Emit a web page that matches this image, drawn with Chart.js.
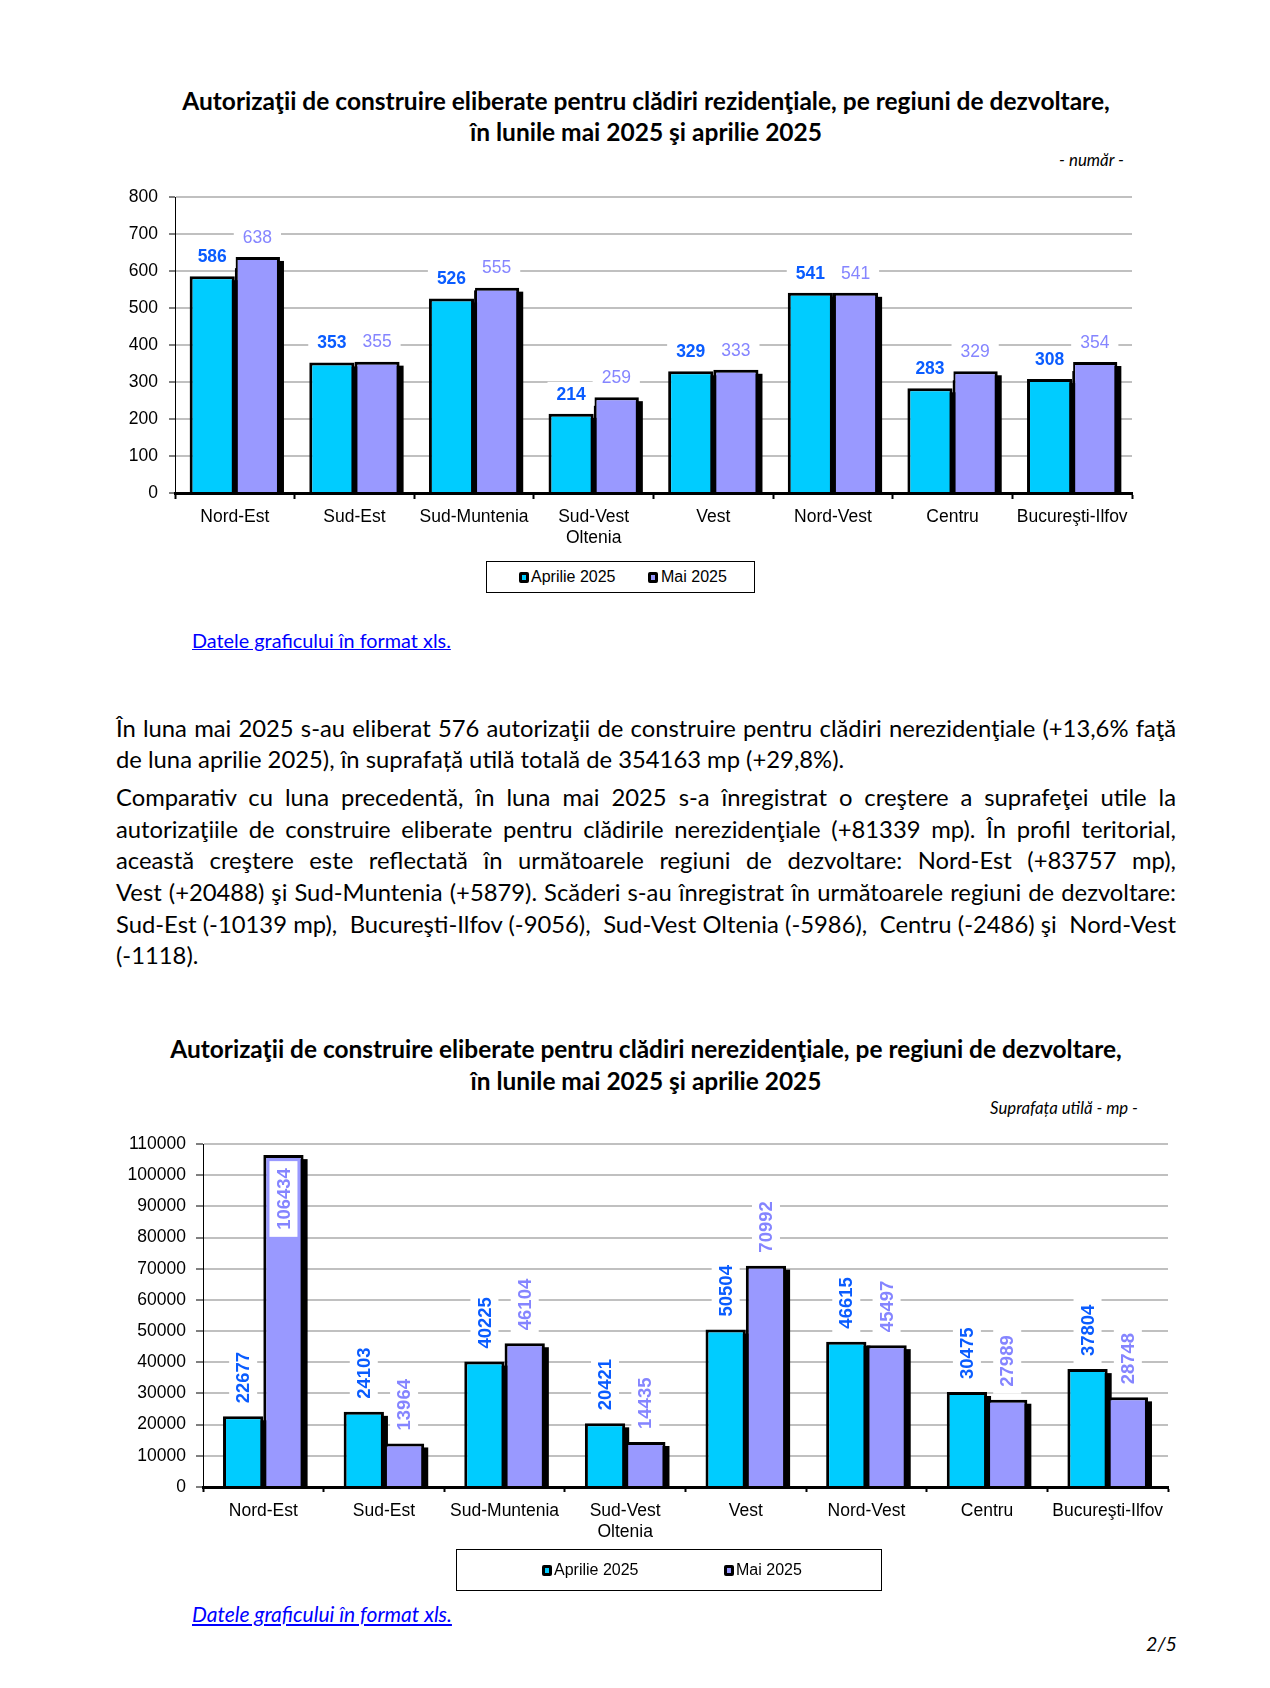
<!DOCTYPE html>
<html><head><meta charset="utf-8">
<script src="https://cdn.jsdelivr.net/npm/chart.js@4.4.1/dist/chart.umd.min.js"></script>
<style>
html,body{margin:0;padding:0;background:#fff;}
body{width:1270px;height:1688px;position:relative;overflow:hidden;font-family:Lato,'Open Sans',sans-serif;color:#000;}
.abs{position:absolute;white-space:nowrap;}
.ctitle{position:absolute;left:11px;width:1270px;text-align:center;font-weight:bold;line-height:30px;white-space:nowrap;}
.line{position:absolute;left:116px;width:1060px;line-height:30px;font-size:22px;}
.line.j{text-align:justify;text-align-last:justify;}
.line.l{text-align:left;}
.link{color:#0000ff;text-decoration:underline;line-height:30px;}
.unit{font-style:italic;line-height:20px;text-align:right;}
.legbox{position:absolute;border:1px solid #000;box-sizing:border-box;}
.sq{position:absolute;width:10px;height:11px;border:3px solid #000;border-radius:2px;box-sizing:border-box;}
.legtxt{position:absolute;font-family:'Liberation Sans',Arial,sans-serif;font-size:16px;line-height:20px;white-space:nowrap;}
canvas{position:absolute;}
</style>
</head>
<body>
<div class="ctitle" id="t1a" style="top:86px"><span>Autorizaţii de construire eliberate pentru clădiri rezidenţiale, pe regiuni de dezvoltare,</span></div>
<div class="ctitle" id="t1b" style="top:117px"><span>în lunile mai 2025 şi aprilie 2025</span></div>
<div class="abs unit" id="u1" style="top:150px;">- număr -</div>

<canvas id="c1" width="1060" height="380" style="left:100px;top:170px;width:1060px;height:380px"></canvas>
<div id="leg1"></div>

<div class="abs link" id="lk1" style="left:192px;top:625px;">Datele graficului în format xls.</div>

<div class="line j" style="top:713px">În luna mai 2025 s-au eliberat 576 autorizaţii de construire pentru clădiri nerezidenţiale (+13,6% faţă</div>
<div class="line l" style="top:744px">de luna aprilie 2025), în suprafață utilă totală de 354163 mp (+29,8%).</div>
<div class="line j" style="top:782px">Comparativ cu luna precedentă, în luna mai 2025 s-a înregistrat o creştere a suprafeţei utile la</div>
<div class="line j" style="top:814px">autorizaţiile de construire eliberate pentru clădirile nerezidenţiale (+81339 mp). În profil teritorial,</div>
<div class="line j" style="top:845px">această creştere este reflectată în următoarele regiuni de dezvoltare: Nord-Est (+83757 mp),</div>
<div class="line j" style="top:877px">Vest (+20488) şi Sud-Muntenia (+5879). Scăderi s-au înregistrat în următoarele regiuni de dezvoltare:</div>
<div class="line j" style="top:909px">Sud-Est (-10139 mp),&nbsp; Bucureşti-Ilfov (-9056),&nbsp; Sud-Vest Oltenia (-5986),&nbsp; Centru (-2486) şi&nbsp; Nord-Vest</div>
<div class="line l" style="top:940px">(-1118).</div>

<div class="ctitle" id="t2a" style="top:1034px"><span>Autorizaţii de construire eliberate pentru clădiri nerezidenţiale, pe regiuni de dezvoltare,</span></div>
<div class="ctitle" id="t2b" style="top:1066px"><span>în lunile mai 2025 şi aprilie 2025</span></div>
<div class="abs unit" id="u2" style="top:1098px;">Suprafața utilă - mp -</div>

<canvas id="c2" width="1090" height="440" style="left:100px;top:1120px;width:1090px;height:440px"></canvas>
<div id="leg2"></div>

<div class="abs link" id="lk2" style="left:192px;top:1599px;font-style:italic;">Datele graficului în format xls.</div>
<div class="abs unit" id="pg" style="top:1632px;line-height:24px;">2/5</div>

<script>
// ---------- DATA ----------
const categories = [['Nord-Est'], ['Sud-Est'], ['Sud-Muntenia'], ['Sud-Vest', 'Oltenia'], ['Vest'], ['Nord-Vest'], ['Centru'], ['Bucureşti-Ilfov']];
const seriesNames = ['Aprilie 2025', 'Mai 2025'];
const residApr = [586, 353, 526, 214, 329, 541, 283, 308];
const residMai = [638, 355, 555, 259, 333, 541, 329, 354];
const nonresApr = [22677, 24103, 40225, 20421, 50504, 46615, 30475, 37804];
const nonresMai = [106434, 13964, 46104, 14435, 70992, 45497, 27989, 28748];
const residTicks = [0, 100, 200, 300, 400, 500, 600, 700, 800];
const nonresTicks = [0, 10000, 20000, 30000, 40000, 50000, 60000, 70000, 80000, 90000, 100000, 110000];

// ---------- STYLE ----------
const COLORS = ['#00ccff', '#9999ff'];
const LABEL_COLORS = ['#0a5cff', '#8585ff'];
const AX = "'Liberation Sans', Arial, sans-serif";
Chart.defaults.font.family = AX;
Chart.defaults.color = '#000';

// ---------- text fitting ----------
function widthOf(el){ return el.getBoundingClientRect().width; }
function fitFont(el, target, base){ el.style.fontSize = base + 'px'; const w = widthOf(el); const fs = base * target / w; el.style.fontSize = fs + 'px'; return fs; }

const bodyLines = [...document.querySelectorAll('.line')];
bodyLines.forEach(l => {
  const h = l.innerHTML; l.innerHTML = '';
  const s = document.createElement('span'); s.innerHTML = h; l.appendChild(s);
});

function layoutText(){
  const a1 = document.querySelector('#t1a span'); a1.style.fontSize = '';
  document.querySelector('#t1a').style.fontSize = '23px';
  const fs1 = fitFont(a1, 928, 23);
  a1.style.fontSize = '';
  document.querySelector('#t1a').style.fontSize = fs1 + 'px';
  document.querySelector('#t1b').style.fontSize = fs1 + 'px';
  const a2 = document.querySelector('#t2a span'); a2.style.fontSize = '';
  document.querySelector('#t2a').style.fontSize = '23px';
  const fs2 = fitFont(a2, 952, 23);
  a2.style.fontSize = '';
  document.querySelector('#t2a').style.fontSize = fs2 + 'px';
  document.querySelector('#t2b').style.fontSize = fs2 + 'px';

  const u1 = document.getElementById('u1'); fitFont(u1, 65, 15); u1.style.left = (1124 - widthOf(u1)) + 'px';
  const u2 = document.getElementById('u2'); fitFont(u2, 148, 15); u2.style.left = (1138 - widthOf(u2)) + 'px';
  const pg = document.getElementById('pg'); fitFont(pg, 31, 20); pg.style.left = (1177 - widthOf(pg)) + 'px';
  fitFont(document.getElementById('lk1'), 259, 20);
  fitFont(document.getElementById('lk2'), 260, 20);

  let ratio = Infinity;
  bodyLines.forEach(l => {
    l.style.fontSize = '22px';
    l.style.textAlign = 'left'; l.style.textAlignLast = 'left';
    const s = l.firstChild; s.style.whiteSpace = 'nowrap';
    if (l.classList.contains('j')) ratio = Math.min(ratio, 1058 / widthOf(s));
  });
  const fs = 22 * ratio;
  bodyLines.forEach(l => {
    l.style.fontSize = fs + 'px';
    l.style.textAlign = ''; l.style.textAlignLast = '';
    l.firstChild.style.whiteSpace = 'normal';
  });
}
layoutText();

// ---------- legends (from series names) ----------
function buildLegend(id, box, sqs, txts, cy){
  const host = document.getElementById(id);
  let h = `<div class="legbox" style="left:${box[0]}px;top:${box[1]}px;width:${box[2]}px;height:${box[3]}px"></div>`;
  seriesNames.forEach((n, i) => {
    h += `<div class="sq" style="left:${sqs[i]}px;top:${cy - 5.5}px;background:${COLORS[i]}"></div>`;
    h += `<div class="legtxt" style="left:${txts[i]}px;top:${cy - 10}px">${n}</div>`;
  });
  host.innerHTML = h;
}
buildLegend('leg1', [486, 561, 269, 32], [519, 648], [531, 661], 577);
buildLegend('leg2', [456, 1549, 426, 42], [542, 724], [554, 736], 1570);

// ---------- plugins ----------
const barShadow = {
  id: 'barShadow',
  beforeDatasetsDraw(chart){
    const ctx = chart.ctx;
    ctx.save(); ctx.fillStyle = '#000';
    chart.data.datasets.forEach((ds, i) => {
      chart.getDatasetMeta(i).data.forEach(el => {
        const {x, y, base, width} = el.getProps(['x', 'y', 'base', 'width'], true);
        const h = base - (y + 4);
        if (h > 0) ctx.fillRect(x - width / 2 + 4, y + 4, width, h);
      });
    });
    ctx.restore();
  }
};
const valueLabels = {
  id: 'valueLabels',
  afterDatasetsDraw(chart, args, o){
    const ctx = chart.ctx; const ca = chart.chartArea;
    chart.data.datasets.forEach((ds, i) => {
      chart.getDatasetMeta(i).data.forEach((el, j) => {
        const txt = String(ds.data[j]);
        ctx.save();
        ctx.font = o.fonts[i];
        const tw = ctx.measureText(txt).width;
        ctx.textAlign = 'center'; ctx.textBaseline = 'middle';
        if (!o.rotate) {
          const cy = el.y - o.gap;
          ctx.fillStyle = '#fff';
          ctx.fillRect(el.x - tw / 2 - o.padX, cy - o.boxH / 2, tw + 2 * o.padX, o.boxH);
          ctx.fillStyle = LABEL_COLORS[i];
          ctx.fillText(txt, el.x, cy + 1);
        } else {
          let cy = el.y - o.gap - tw / 2;
          if (el.y - o.gap - tw < ca.top) cy = el.y + o.gap + tw / 2;
          ctx.translate(el.x, cy); ctx.rotate(-Math.PI / 2);
          ctx.fillStyle = '#fff';
          ctx.fillRect(-tw / 2 - o.padX, -o.boxH / 2, tw + 2 * o.padX, o.boxH);
          ctx.fillStyle = LABEL_COLORS[i];
          ctx.fillText(txt, 0, 1);
        }
        ctx.restore();
      });
    });
  }
};

function makeChart(id, a, m, ticksArr, cfg){
  return new Chart(document.getElementById(id), {
    type: 'bar',
    data: {
      labels: categories,
      datasets: [
        {label: seriesNames[0], data: a, backgroundColor: COLORS[0], borderColor: '#000', borderWidth: 3},
        {label: seriesNames[1], data: m, backgroundColor: COLORS[1], borderColor: '#000', borderWidth: 3}
      ]
    },
    options: {
      responsive: false, animation: false, events: [],
      layout: {padding: {left: 0, right: cfg.padR, top: cfg.padT, bottom: 0}},
      datasets: {bar: {categoryPercentage: cfg.catPct, barPercentage: 1}},
      plugins: {
        legend: {display: false}, tooltip: {enabled: false},
        valueLabels: cfg.labels
      },
      scales: {
        x: {
          offset: true,
          grid: {drawOnChartArea: false, drawTicks: true, tickLength: cfg.xTickLen, tickColor: '#000', tickWidth: 2, offset: true},
          border: {color: '#000', width: 3, z: 1},
          ticks: {color: '#000', font: {size: 17.5, lineHeight: 1.19}, padding: cfg.xPad, maxRotation: 0, autoSkip: false},
          afterFit(s){ s.height = cfg.xH; }
        },
        y: {
          min: ticksArr[0], max: ticksArr[ticksArr.length - 1],
          afterBuildTicks(s){ s.ticks = ticksArr.map(v => ({value: v})); },
          ticks: {color: '#000', font: {size: 17.5}, padding: cfg.yPad, callback: v => String(v)},
          grid: {color: c => (c.tick && c.tick.value === 0) ? 'rgba(0,0,0,0)' : '#c0c0c0', lineWidth: 2, tickColor: '#000', tickLength: cfg.yTickLen, tickWidth: 1},
          border: {color: '#000', width: 1},
          afterFit(s){ s.width = cfg.yW; }
        }
      }
    },
    plugins: [barShadow, valueLabels]
  });
}

const ch1 = makeChart('c1', residApr, residMai, residTicks, {
  padR: 28, padT: 27, catPct: 0.755, xTickLen: 6, xPad: 8, xH: 57, yPad: 11, yTickLen: 6, yW: 75,
  labels: {rotate: false, gap: 20, padX: 9, boxH: 24, fonts: ['bold 17.5px ' + AX, '17.5px ' + AX]}
});
const ch2 = makeChart('c2', nonresApr, nonresMai, nonresTicks, {
  padR: 22, padT: 24, catPct: 0.668, xTickLen: 5, xPad: 9, xH: 73, yPad: 10, yTickLen: 7, yW: 103,
  labels: {rotate: true, gap: 13, padX: 7, boxH: 28, fonts: ['bold 18.5px ' + AX, 'bold 18.5px ' + AX]}
});

if (document.fonts && document.fonts.ready) {
  document.fonts.ready.then(() => { layoutText(); ch1.update(); ch2.update(); });
}
</script>
</body></html>
